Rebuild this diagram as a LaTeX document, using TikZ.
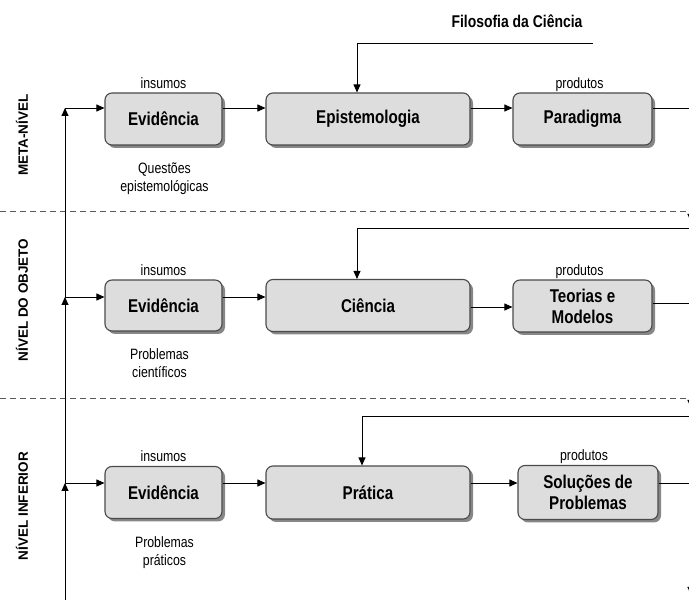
\documentclass[tikz,border=0pt]{standalone}
\usepackage{fontspec}
\setmainfont{Liberation Sans}
\newfontfamily\narrowsf[FakeStretch=0.82]{Liberation Sans}
\usepackage{tikz}
\usetikzlibrary{
    arrows.meta,
    positioning,
    calc,
    shadows
}
\definecolor{lvFill}{HTML}{DDDDDD}
\definecolor{lvEdge}{HTML}{4A4A4A}
\definecolor{lvShadow}{HTML}{7A7A7A}
\definecolor{lvDashGray}{HTML}{5A5A5A}
\tikzset{
    lvBox/.style={
        draw=lvEdge,
        fill=lvFill,
        rounded corners=7pt,
        line width=1.1pt,
        inner sep=0pt,
        align=center,
        minimum height=52pt,
        font=\narrowsf\bfseries\fontsize{18.5}{21}\selectfont,
        drop shadow={shadow xshift=3pt,shadow yshift=-3pt,fill=lvShadow,opacity=0.9}
    },
    lvTag/.style={font=\narrowsf\fontsize{15}{18}\selectfont,inner sep=0pt},
    lvNote/.style={font=\narrowsf\fontsize{15}{18}\selectfont,align=center},
    lvLevel/.style={rotate=90,font=\bfseries\fontsize{13.5}{15}\selectfont},
    lvArrow/.style={-{Triangle[length=8pt,width=7pt]},line width=0.9pt},
    lvLine/.style={line width=0.9pt},
    lvDash/.style={line width=0.9pt,dash pattern=on 6pt off 4pt,draw=lvDashGray}
}

\begin{document}
\begin{tikzpicture}[x=1pt,y=1pt]
    \useasboundingbox (0,0) rectangle (689,600);

    % level names
    \node[lvLevel] (lvMeta) at (22,465) {META-NÍVEL};
    \node[lvLevel] (lvObj) at (22,300) {NÍVEL DO OBJETO};
    \node[lvLevel] (lvInf) at (22,94) {NÍVEL INFERIOR};

    % separators
    \coordinate (d1a) at (0,389);
    \coordinate (d1b) at (689,389);
    \coordinate (d2a) at (0,202);
    \coordinate (d2b) at (689,202);
    \draw[lvDash] (d1a) -- (d1b);
    \draw[lvDash] (d2a) -- (d2b);

    % meta level
    \node[lvBox,minimum width=117pt] (ev1) at (163.5,481) {Evidência};
    \node[lvBox,minimum width=204pt] (epi) at (368,481) {Epistemologia};
    \node[lvBox,minimum width=139pt] (par) at (582.5,481) {Paradigma};
    \node[lvTag,above=4pt of ev1,anchor=base] (in1) {insumos};
    \node[lvTag,above=4pt of par,anchor=base,xshift=-3pt] (pr1) {produtos};
    \node[lvNote,below=14pt of ev1,xshift=1pt] (q1) {Questões\\epistemológicas};
    \node[font=\narrowsf\bfseries\fontsize{17}{20}\selectfont] (fil) at (517,579)
        {Filosofia da Ciência};

    % object level
    \node[lvBox,minimum width=117pt,minimum height=51pt] (ev2) at (163.5,294.5) {Evidência};
    \node[lvBox,minimum width=204pt] (cie) at (368,294.5) {Ciência};
    \node[lvBox,minimum width=139pt] (teo) at (582.5,294) {Teorias e\\Modelos};
    \node[lvTag,above=4pt of ev2,anchor=base] (in2) {insumos};
    \node[lvTag,above=4pt of teo,anchor=base,xshift=-3pt] (pr2) {produtos};
    \node[lvNote,below=14pt of ev2,xshift=-4pt] (q2) {Problemas\\científicos};

    % lower level
    \node[lvBox,minimum width=117pt] (ev3) at (163.5,107.5) {Evidência};
    \node[lvBox,minimum width=204pt,minimum height=53pt] (pra) at (368,107.5) {Prática};
    \node[lvBox,minimum width=140pt,minimum height=54pt] (sol) at (588,107.5) {Soluções de\\Problemas};
    \node[lvTag,above=4pt of ev3,anchor=base] (in3) {insumos};
    \node[lvTag,above=4pt of sol,anchor=base,xshift=-4pt] (pr3) {produtos};
    \node[lvNote,below=14pt of ev3,xshift=1pt] (q3) {Problemas\\práticos};

    % left return line
    \coordinate (j0) at (65,0);
    \coordinate (j1) at (65,492);
    \coordinate (j2) at (65,303);
    \coordinate (j3) at (65,117);
    \draw[lvArrow] (j0) -- (j3);
    \draw[lvArrow] (j3) -- (j2);
    \draw[lvArrow] (j2) -- (j1);
    \draw[lvArrow] (j1) -- (j1 -| ev1.west);
    \draw[lvArrow] (j2) -- (j2 -| ev2.west);
    \draw[lvArrow] (j3) -- (j3 -| ev3.west);

    % flows inside each level
    \draw[lvArrow] (ev1.east |- j1) -- (epi.west |- j1);
    \draw[lvArrow] (epi.east |- j1) -- (par.west |- j1);
    \draw[lvArrow] (ev2.east |- j2) -- (cie.west |- j2);
    \coordinate (c2) at (0,293);
    \draw[lvArrow] (cie.east |- c2) -- (teo.west |- c2);
    \draw[lvArrow] (ev3.east |- j3) -- (pra.west |- j3);
    \draw[lvArrow] (pra.east |- j3) -- (sol.west |- j3);

    % outputs leaving on the right
    \coordinate (o1) at (690,492);
    \coordinate (o2) at (690,297);
    \coordinate (o3) at (690,117);
    \draw[lvLine] (par.east |- o1) -- (o1);
    \draw[lvLine] (teo.east |- o2) -- (o2);
    \draw[lvLine] (sol.east |- o3) -- (o3);

    % inputs from above
    \coordinate (f1) at (593,557);
    \coordinate (f1b) at (357,557);
    \draw[lvArrow] (f1) -- (f1b) -- (f1b |- epi.north);
    \coordinate (f2) at (690,372);
    \coordinate (f2b) at (357,372);
    \draw[lvArrow] (f2) -- (f2b) -- (f2b |- cie.north);
    \coordinate (f3) at (690,184);
    \coordinate (f3b) at (362,184);
    \draw[lvArrow] (f3) -- (f3b) -- (f3b |- pra.north);

    % arrow ends cut by the right border
    \coordinate (r1) at (691,395);
    \coordinate (r2) at (691,209);
    \coordinate (r3) at (691,22);
    \draw[lvArrow] (r1) -- ++(0,-17);
    \draw[lvArrow] (r2) -- ++(0,-17);
    \draw[lvArrow] (r3) -- ++(0,-17);
\end{tikzpicture}
\end{document}
